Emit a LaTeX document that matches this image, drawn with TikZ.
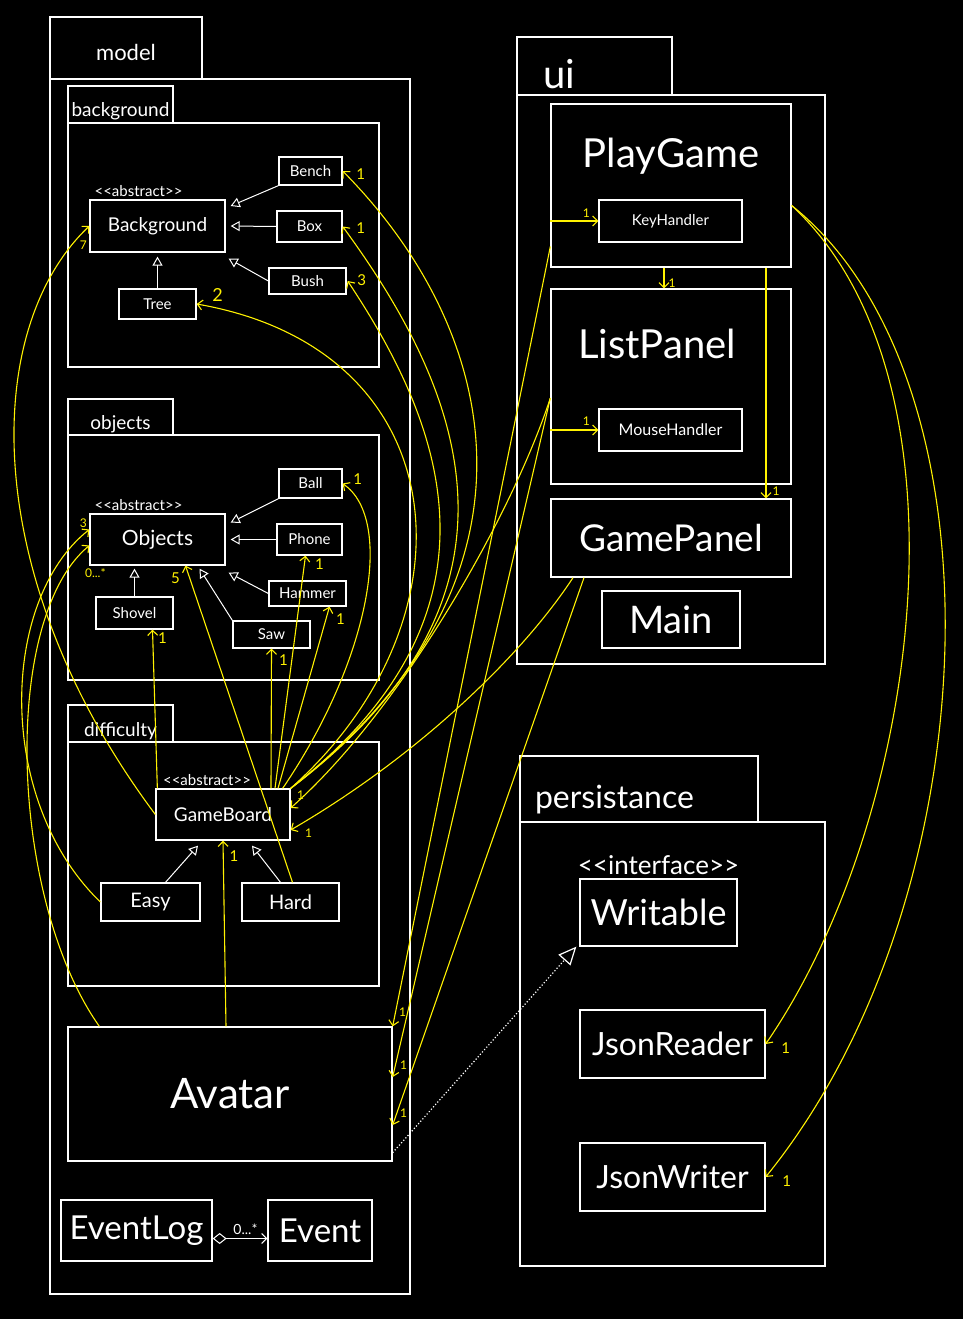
\documentclass[tikz,border=0pt]{standalone}
\usepackage{fontspec}
\setmainfont{Lato}
\usepackage{tikz}
\usetikzlibrary{arrows.meta}
\usetikzlibrary{positioning}
\newcommand{\fsz}[1]{\fontsize{#1}{#1}\selectfont}

\begin{document}
\begin{tikzpicture}[x=1pt, y=-1pt,
                    every node/.style={text=white, inner sep=0pt},
                    pkg/.style={draw=white, line width=1.3pt},
                    cls/.style={draw=white, line width=1.3pt},
                    isa/.style={draw=white, line width=1pt, -{Triangle[open, length=9pt, width=10pt]}},
                    has/.style={draw=yellow, line width=1.1pt, -{Straight Barb[length=5pt, width=10pt]}},
                    mult/.style={text=yellow, font=\fsz{15}}]
                    \tikzstyle{stereo}=[font=\fsz{15}, label distance=3pt]
                    \useasboundingbox (0,0) rectangle (963,1319);
                    \fill[black] (0,0) rectangle (963,1319);

                    % model
                    \node[pkg, minimum width=360pt, minimum height=1215pt] (Model) at (230,686.5) {};
                    \node[pkg, minimum width=152pt, minimum height=62pt, font=\fsz{22},
                          text height=26pt, text depth=0pt] (ModelTab) at (126,48) {model};

                    \node[pkg, minimum width=311pt, minimum height=244pt] (BackgroundPkg) at (223.5,245) {};
                    \node[pkg, minimum width=105pt, minimum height=37pt, font=\fsz{19},
                          text height=24pt, text depth=0pt] (BackgroundTab) at (120.5,104.5) {background};
                    \node[cls, minimum width=135pt, minimum height=52pt, font=\fsz{19},
                          label={[stereo, xshift=-19pt]north:<{}<abstract>{}>}] (Background) at (157.5,226) {Background};
                    \node[cls, minimum width=63pt, minimum height=28pt, font=\fsz{15}] (Bench) at (310.5,171) {Bench};
                    \node[cls, minimum width=65pt, minimum height=31pt, font=\fsz{15}] (Box) at (309.5,226.5) {Box};
                    \node[cls, minimum width=77pt, minimum height=26pt, font=\fsz{15}] (Bush) at (307.5,281) {Bush};
                    \node[cls, minimum width=77pt, minimum height=30pt, font=\fsz{15}] (Tree) at (157.5,304) {Tree};

                    \node[pkg, minimum width=311pt, minimum height=245pt] (ObjectsPkg) at (223.5,557.5) {};
                    \node[pkg, minimum width=105pt, minimum height=36pt, font=\fsz{19},
                          text height=25pt, text depth=0pt] (ObjectsTab) at (120.5,417) {objects};
                    \node[cls, minimum width=135pt, minimum height=51pt, font=\fsz{21},
                          label={[stereo, xshift=-19pt]north:<{}<abstract>{}>}] (Objects) at (157.5,539.5) {Objects};
                    \node[cls, minimum width=63pt, minimum height=29pt, font=\fsz{15}] (Ball) at (310.5,483.5) {Ball};
                    \node[cls, minimum width=65pt, minimum height=31pt, font=\fsz{15}] (Phone) at (309.5,539.5) {Phone};
                    \node[cls, minimum width=77pt, minimum height=25pt, font=\fsz{15}] (Hammer) at (307.5,593.5) {Hammer};
                    \node[cls, minimum width=77pt, minimum height=27pt, font=\fsz{15}] (Saw) at (271.5,634.5) {Saw};
                    \node[cls, minimum width=77pt, minimum height=32pt, font=\fsz{15}] (Shovel) at (134.5,613) {Shovel};

                    \node[pkg, minimum width=311pt, minimum height=244pt] (DifficultyPkg) at (223.5,864) {};
                    \node[pkg, minimum width=105pt, minimum height=37pt, font=\fsz{19},
                          text height=26pt, text depth=0pt] (DifficultyTab) at (120.5,723.5) {difficulty};
                    \node[cls, minimum width=134pt, minimum height=51pt, font=\fsz{19},
                          label={[stereo, xshift=-16pt]north:<{}<abstract>{}>}] (GameBoard) at (223,814.5) {GameBoard};
                    \node[cls, minimum width=99pt, minimum height=38pt, font=\fsz{20}] (Easy) at (150.5,902) {Easy};
                    \node[cls, minimum width=97pt, minimum height=38pt, font=\fsz{20}] (Hard) at (290.5,902) {Hard};

                    \node[cls, minimum width=324pt, minimum height=134pt, font=\fsz{42}] (Avatar) at (230,1094) {Avatar};
                    \node[cls, minimum width=151pt, minimum height=61pt, font=\fsz{33}] (EventLog) at (136.5,1230.5) {EventLog};
                    \node[cls, minimum width=104pt, minimum height=61pt, font=\fsz{33}] (Event) at (320,1230.5) {Event};

                    % ui
                    \node[pkg, minimum width=308pt, minimum height=569pt] (UI) at (671,379.5) {};
                    \node[pkg, minimum width=155pt, minimum height=58pt, font=\fsz{40},
                          inner xsep=26pt, text width=103pt, align=left,
                          text height=46pt, text depth=0pt] (UITab) at (594.5,66) {ui};
                    \node[cls, minimum width=240pt, minimum height=163pt,
                          label={[font=\fsz{40}, label distance=-71pt]north:PlayGame}] (PlayGame) at (671,185.5) {};
                    \node[cls, minimum width=143pt, minimum height=42pt, font=\fsz{15}] (KeyHandler) at (670.5,221) {KeyHandler};
                    \node[cls, minimum width=240pt, minimum height=195pt,
                          label={[font=\fsz{40}, label distance=-71pt, xshift=-14pt]north:ListPanel}] (ListPanel) at (671,386.5) {};
                    \node[cls, minimum width=143pt, minimum height=42pt, font=\fsz{16}] (MouseHandler) at (670.5,430) {MouseHandler};
                    \node[cls, minimum width=240pt, minimum height=78pt, font=\fsz{37}] (GamePanel) at (671,538) {GamePanel};
                    \node[cls, minimum width=138pt, minimum height=57pt, font=\fsz{38}] (Main) at (671,619.5) {Main};

                    % persistance
                    \node[pkg, minimum width=305pt, minimum height=444pt] (Persistance) at (672.5,1044) {};
                    \node[pkg, minimum width=238pt, minimum height=66pt, font=\fsz{32},
                          inner xsep=15pt, text width=208pt, align=left,
                          text height=38pt, text depth=0pt] (PersistanceTab) at (639,789) {persistance};
                    \node[cls, minimum width=157pt, minimum height=67pt, font=\fsz{36},
                          label={[font=\fsz{26}, label distance=3pt]north:<{}<interface>{}>}] (Writable) at (658.5,912.5) {Writable};
                    \node[cls, minimum width=185pt, minimum height=68pt, font=\fsz{32}] (JsonReader) at (672.5,1044) {JsonReader};
                    \node[cls, minimum width=185pt, minimum height=68pt, font=\fsz{32}] (JsonWriter) at (672.5,1177) {JsonWriter};

                    % inheritance
                    \draw[isa] (Bench.south west) -- ([xshift=5pt,yshift=20pt]Background.east);
                    \draw[isa] (Box.west) -- ([xshift=5pt]Background.east);
                    \draw[isa] (Bush.west) -- ([xshift=3pt,yshift=-6pt]Background.south east);
                    \draw[isa] (Tree.north) -- ([yshift=-4pt]Background.south);
                    \draw[isa] (Ball.south west) -- ([xshift=5pt,yshift=17pt]Objects.east);
                    \draw[isa] (Phone.west) -- ([xshift=5pt]Objects.east);
                    \draw[isa] (Hammer.west) -- ([xshift=3pt,yshift=-7pt]Objects.south east);
                    \draw[isa] (Saw.north west) -- ([xshift=42pt,yshift=-3pt]Objects.south);
                    \draw[isa] (Shovel.north) -- ([yshift=-3pt]Shovel.north |- Objects.south);
                    \draw[isa] ([xshift=15pt]Easy.north) -- ([xshift=-25pt,yshift=-5pt]GameBoard.south);
                    \draw[isa] ([xshift=-10pt]Hard.north) -- ([xshift=29pt,yshift=-5pt]GameBoard.south);
                    \draw[white, line width=1.2pt, dotted, -{Triangle[open, length=18pt, width=16pt]}]
                         ([yshift=9pt]Avatar.south east) -- ([xshift=-3pt]Writable.south west);
                    \draw[white, line width=1pt, {Diamond[open, length=14pt, width=11pt]}-{Straight Barb[length=5pt, width=10pt]}]
                         ([yshift=-8pt]EventLog.east) -- node[pos=0.6, above=3pt, font=\fsz{14}] {0...*} ([yshift=-8pt]Event.west);

                    % associations
                    \draw[has] (GameBoard.north east) .. controls (560,580) and (500,330) .. (Bench.east)
                         node[mult, xshift=18pt, yshift=-3pt] {1};
                    \draw[has] (GameBoard.north east) .. controls (540,600) and (470,400) .. (Box.east)
                         node[mult, xshift=18pt, yshift=-2pt] {1};
                    \draw[has] (GameBoard.north east) .. controls (520,610) and (440,420) .. ([xshift=1pt]Bush.east)
                         node[mult, xshift=14pt, yshift=1pt] {3};
                    \draw[has] (GameBoard.north east) .. controls (480,620) and (460,350) .. (Tree.east)
                         node[mult, font=\fsz{18}, xshift=21pt, yshift=9pt] {2};
                    \draw[has] ([xshift=-8pt]GameBoard.north east) .. controls (370,660) and (395,520) .. (Ball.east)
                         node[mult, xshift=15pt, yshift=4pt] {1};
                    \draw[has] ([xshift=52pt]GameBoard.north) -- ([xshift=-4pt]Phone.south)
                         node[mult, xshift=14pt, yshift=-8pt] {1};
                    \draw[has] ([xshift=55pt]GameBoard.north) -- ([xshift=22pt]Hammer.south)
                         node[mult, xshift=11pt, yshift=-12pt] {1};
                    \draw[has] ([xshift=48pt]GameBoard.north) -- (Saw.south)
                         node[mult, xshift=12pt, yshift=-11pt] {1};
                    \draw[has] ([xshift=2pt]GameBoard.north west) -- ([xshift=18pt]Shovel.south)
                         node[mult, xshift=10pt, yshift=-8pt] {1};
                    \draw[has] ([xshift=2pt]Hard.north) -- ([xshift=28pt]Objects.south)
                         node[mult, xshift=-10pt, yshift=-13pt] {5};
                    \draw[has] (GameBoard.west) .. controls (-20,580) and (-20,330) .. (Background.west)
                         node[mult, font=\fsz{12}, xshift=-6pt, yshift=-19pt] {7};
                    \draw[has] (Easy.west) .. controls (-5,800) and (0,600) .. ([yshift=10pt]Objects.west)
                         node[mult, font=\fsz{12}, xshift=-6pt, yshift=6pt] {3};
                    \draw[has] ([xshift=32pt]Avatar.north west) .. controls (10,900) and (0,620) .. ([yshift=-6pt]Objects.west)
                         node[mult, font=\fsz{12}, xshift=6pt, yshift=-28pt] {0...*};
                    \draw[has] ([xshift=-4pt]Avatar.north) -- (GameBoard.south)
                         node[mult, xshift=11pt, yshift=-15pt] {1};

                    \draw[has] (KeyHandler.west -| PlayGame.west) -- (KeyHandler.west)
                         node[mult, font=\fsz{12}, xshift=-12pt, yshift=8pt] {1};
                    \draw[has] ([xshift=-7pt]PlayGame.south) -- ([xshift=-7pt]ListPanel.north)
                         node[mult, font=\fsz{12}, xshift=8pt, yshift=5pt] {1};
                    \draw[has] ([xshift=95pt]PlayGame.south) -- ([xshift=95pt]GamePanel.north)
                         node[mult, font=\fsz{12}, xshift=10pt, yshift=7pt] {1};
                    \draw[has] (MouseHandler.west -| ListPanel.west) -- (MouseHandler.west)
                         node[mult, font=\fsz{12}, xshift=-12pt, yshift=9pt] {1};

                    \draw[has] ([yshift=-61pt]PlayGame.west) -- (Avatar.north east)
                         node[mult, font=\fsz{12}, xshift=10pt, yshift=14pt] {1};
                    \draw[has] ([yshift=-11.5pt]ListPanel.west) -- ([yshift=17pt]Avatar.east)
                         node[mult, font=\fsz{12}, xshift=11pt, yshift=12pt] {1};
                    \draw[has] ([xshift=-87pt]GamePanel.south) -- ([yshift=-31pt]Avatar.east)
                         node[mult, font=\fsz{12}, xshift=11pt, yshift=12pt] {1};
                    \draw[has] ([yshift=-11.5pt]ListPanel.west) .. controls (511,518) and (400,711) .. ([yshift=6.5pt]GameBoard.east)
                         node[mult, font=\fsz{12}, xshift=10pt, yshift=13pt] {1};
                    \draw[has] ([xshift=-98pt]GamePanel.south) .. controls (523,654) and (420,755) .. ([yshift=-15.5pt]GameBoard.east)
                         node[mult, font=\fsz{12}, xshift=18pt, yshift=-3pt] {1};

                    \draw[has] ([yshift=-20pt]PlayGame.east) .. controls (980,380) and (920,820) .. (JsonReader.east)
                         node[mult, xshift=20pt, yshift=-4pt] {1};
                    \draw[has] ([yshift=-20pt]PlayGame.east) .. controls (1010,380) and (990,900) .. (JsonWriter.east)
                         node[mult, xshift=21pt, yshift=-4pt] {1};
                \end{tikzpicture}
\end{document}
